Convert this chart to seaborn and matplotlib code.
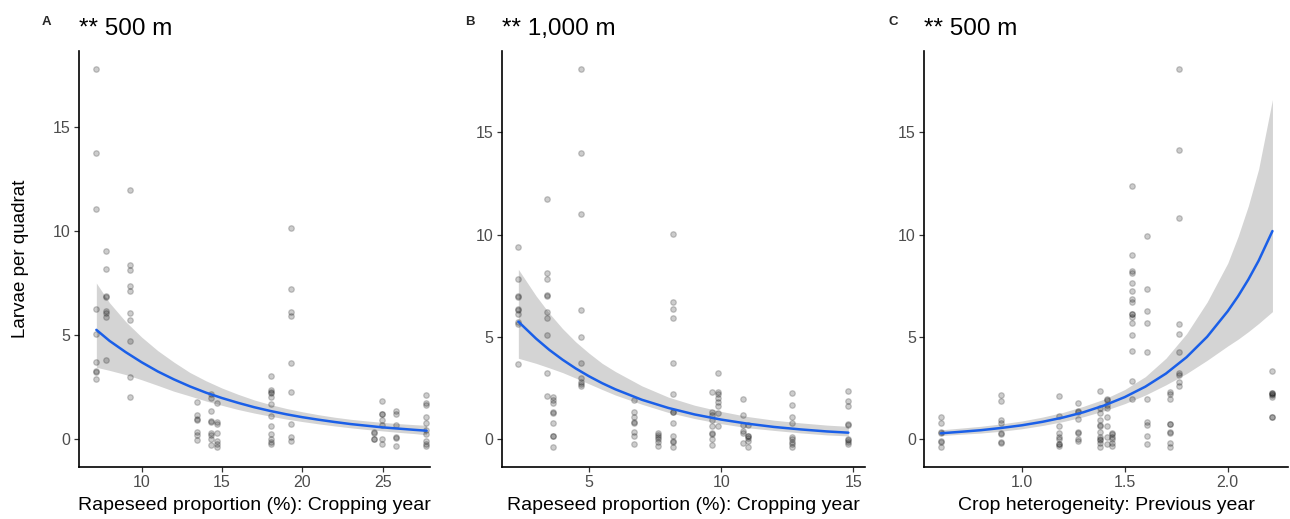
import numpy as np
import pandas as pd
import seaborn as sns
from matplotlib import pyplot as plt

# ---- data ----
# Panel A: rapeseed proportion (%) in the cropping year, 500 m
a_cols = [7.15, 7.8, 9.26, 13.46, 14.29, 14.67, 18.05, 19.27, 24.46, 24.93, 25.8, 27.7]
a_vals = [
    [17.77, 13.77, 11.06, 6.23, 5.03, 3.69, 3.27, 3.22, 2.87],
    [9.05, 8.16, 6.90, 6.85, 6.15, 6.07, 5.85, 3.80],
    [11.97, 8.37, 8.12, 7.36, 7.13, 6.04, 5.72, 4.71, 3.00, 2.02],
    [1.78, 1.15, 0.96, 0.92, 0.35, 0.19, -0.05],
    [2.16, 1.95, 1.35, 0.85, 0.80, 0.30, 0.19, -0.02, -0.29],
    [1.71, 0.83, 0.72, 0.27, -0.10, -0.24, -0.40],
    [3.03, 2.36, 2.28, 2.20, 2.04, 1.68, 1.12, 0.64, 0.24, -0.02, -0.13, -0.24],
    [10.16, 7.21, 6.12, 5.91, 3.64, 2.26, 0.72, 0.11, -0.08],
    [0.34, 0.30, 0.02, -0.02],
    [1.84, 1.22, 1.18, 0.91, 0.67, 0.00, -0.24],
    [1.36, 1.20, 0.67, 0.10, 0.06, -0.34],
    [2.10, 1.71, 1.63, 1.07, 0.75, 0.43, 0.22, -0.10, -0.24, -0.34],
]
a_fit_x = [7.18, 8, 9, 10, 11, 12, 13, 14, 15, 16, 17, 18, 19, 20, 21, 22,
           23, 24, 25, 26, 27, 27.73]
a_fit = [5.25, 4.72, 4.18, 3.69, 3.25, 2.87, 2.53, 2.23, 1.97, 1.74, 1.53,
         1.35, 1.19, 1.05, 0.93, 0.82, 0.72, 0.64, 0.56, 0.50, 0.44, 0.40]
a_hi = [7.50, 6.55, 5.65, 4.90, 4.25, 3.70, 3.20, 2.80, 2.45, 2.15, 1.88,
        1.66, 1.47, 1.31, 1.17, 1.05, 0.95, 0.87, 0.80, 0.74, 0.69, 0.66]
a_lo = [3.45, 3.30, 3.10, 2.85, 2.58, 2.30, 2.07, 1.83, 1.62, 1.42, 1.25,
        1.10, 0.96, 0.84, 0.73, 0.63, 0.54, 0.46, 0.39, 0.32, 0.26, 0.20]

# Panel B: rapeseed proportion (%) in the cropping year, 1,000 m
b_cols = [2.33, 3.42, 3.63, 4.70, 6.70, 7.62, 8.19, 9.64, 9.89, 10.84, 11.03, 12.67, 14.81]
b_vals = [
    [9.37, 7.81, 6.98, 6.94, 6.36, 6.32, 6.11, 5.74, 5.62, 3.67],
    [11.72, 8.10, 7.81, 7.03, 6.99, 6.23, 5.90, 5.09, 3.21, 2.12],
    [2.07, 1.91, 1.74, 1.32, 1.28, 0.80, 0.17, 0.13, -0.38],
    [18.08, 13.99, 11.02, 6.31, 5.00, 3.73, 2.97, 2.80, 2.69, 2.59],
    [1.91, 1.34, 1.09, 0.82, 0.78, 0.36, 0.15, -0.24],
    [0.31, 0.20, 0.08, -0.02, -0.13, -0.34],
    [10.01, 6.72, 6.34, 5.90, 3.73, 2.18, 1.34, 1.30, 0.80, 0.16, -0.11, -0.15, -0.41],
    [2.28, 1.31, 1.17, 0.93, 0.65, 0.30, 0.26, 0.00, -0.29],
    [3.21, 2.31, 2.20, 1.99, 1.79, 1.63, 1.26, 0.64],
    [1.97, 1.17, 0.68, 0.38, 0.30, -0.18],
    [0.68, 0.17, 0.13, 0.03, -0.10, -0.38],
    [2.23, 1.66, 1.09, 0.80, 0.11, -0.02, -0.13, -0.24, -0.38],
    [2.36, 1.87, 1.61, 0.74, 0.70, 0.00, -0.04, -0.13, -0.24],
]
b_fit_x = [2.33, 3, 3.5, 4, 4.5, 5, 5.5, 6, 7, 8, 9, 10, 11, 12, 13, 14, 14.81]
b_fit = [5.74, 4.91, 4.36, 3.88, 3.45, 3.07, 2.73, 2.43, 1.92, 1.52, 1.20,
         0.95, 0.75, 0.59, 0.47, 0.37, 0.31]
b_hi = [8.30, 7.00, 6.15, 5.40, 4.75, 4.20, 3.70, 3.30, 2.60, 2.05, 1.65,
        1.35, 1.10, 0.92, 0.79, 0.68, 0.62]
b_lo = [3.95, 3.70, 3.48, 3.25, 2.98, 2.70, 2.42, 2.15, 1.70, 1.30, 1.00,
        0.75, 0.55, 0.42, 0.30, 0.20, 0.15]

# Panel C: crop heterogeneity in the previous year, 500 m
c_cols = [0.607, 0.901, 1.181, 1.273, 1.380, 1.416, 1.440, 1.537, 1.607, 1.720, 1.764, 2.217]
c_vals = [
    [1.09, 0.80, 0.33, 0.29, -0.11, -0.15, -0.38],
    [2.15, 1.87, 0.93, 0.80, 0.30, 0.26, -0.16, -0.20],
    [2.10, 1.12, 0.64, 0.28, 0.11, -0.02, -0.22, -0.26, -0.34],
    [1.78, 1.36, 1.32, 0.98, 0.33, 0.29, -0.02, -0.10],
    [2.36, 1.50, 1.26, 0.93, 0.70, 0.66, 0.36, 0.08, 0.00, -0.04, -0.18, -0.41],
    [1.96, 1.92, 1.66, 1.50, 1.09, 0.64, 0.11, -0.24],
    [0.30, 0.26, 0.11, -0.02, -0.18, -0.34],
    [12.37, 9.01, 8.23, 8.10, 7.61, 7.25, 6.83, 6.72, 6.13, 6.09, 5.98, 5.66, 5.09, 4.32, 2.85, 1.94],
    [9.94, 7.32, 6.27, 5.69, 4.24, 1.96, 0.85, 0.68, 0.15, -0.24],
    [2.31, 2.20, 1.94, 0.75, 0.71, 0.33, 0.29, -0.21, -0.41],
    [18.08, 14.15, 10.82, 5.61, 5.12, 4.27, 3.24, 3.13, 2.80, 2.61],
    [3.34, 2.25, 2.21, 2.23, 2.15, 2.07, 1.10, 1.08],
]
c_fit_x = [0.607, 0.7, 0.8, 0.9, 1.0, 1.1, 1.2, 1.3, 1.4, 1.5, 1.6, 1.7, 1.8,
           1.9, 2.0, 2.05, 2.1, 2.15, 2.217]
c_fit = [0.28, 0.35, 0.43, 0.54, 0.67, 0.84, 1.05, 1.31, 1.64, 2.05, 2.56,
         3.20, 4.00, 5.00, 6.25, 6.98, 7.80, 8.72, 10.17]
c_hi = [0.45, 0.53, 0.62, 0.74, 0.88, 1.07, 1.30, 1.60, 1.95, 2.42, 3.05,
        3.95, 5.15, 6.70, 8.60, 9.90, 11.40, 13.20, 16.60]
c_lo = [0.17, 0.23, 0.29, 0.38, 0.50, 0.66, 0.85, 1.09, 1.38, 1.73, 2.15,
        2.65, 3.20, 3.85, 4.55, 4.88, 5.25, 5.65, 6.23]

letters = ['A', 'B', 'C']
titles = ['** 500 m', '** 1,000 m', '** 500 m']
xlabels = ['Rapeseed proportion (%): Cropping year',
           'Rapeseed proportion (%): Cropping year',
           'Crop heterogeneity: Previous year']


def to_frame(cols, vals):
    xs = [c for c, v in zip(cols, vals) for _ in v]
    ys = [y for v in vals for y in v]
    return pd.DataFrame({'x': xs, 'y': ys})


sns.set_theme(style='ticks')
plt.rcParams['font.family'] = ['Liberation Sans', 'DejaVu Sans']

W, H = 1290, 519
fig = plt.figure(figsize=(W / 100, H / 100), dpi=100)

# axes boxes in pixels: left, right, top, bottom
boxes = [(79, 430, 50.7, 466.7), (501.7, 865, 50.7, 466.7), (924.3, 1288.3, 50.7, 466.7)]
xlims = [(6.1, 27.94), (1.7, 15.44), (0.527, 2.294)]
ylims = [(-1.33, 18.67), (-1.354, 18.99), (-1.354, 18.99)]
xticks = [[10, 15, 20, 25], [5, 10, 15], [1.0, 1.5, 2.0]]
letter_x = [42, 465, 888]

panels = [
    (a_cols, a_vals, a_fit_x, a_fit, a_lo, a_hi),
    (b_cols, b_vals, b_fit_x, b_fit, b_lo, b_hi),
    (c_cols, c_vals, c_fit_x, c_fit, c_lo, c_hi),
]

for i, (cols, vals, fx, fy, lo, hi) in enumerate(panels):
    l, r, t, b = boxes[i]
    ax = fig.add_axes([l / W, 1 - b / H, (r - l) / W, (b - t) / H])
    df = to_frame(cols, vals)
    fit = pd.DataFrame({'x': fx, 'y': fy, 'lo': lo, 'hi': hi})

    ax.fill_between(fit['x'], fit['lo'], fit['hi'], color='#d4d4d4', lw=0, zorder=1)
    sns.scatterplot(data=df, x='x', y='y', ax=ax, color='black', alpha=0.2,
                    s=16, linewidth=0.9, edgecolor='black', zorder=2)
    sns.lineplot(data=fit, x='x', y='y', ax=ax, color='#1a5fe8', lw=1.8, zorder=3)

    ax.set_xlim(*xlims[i])
    ax.set_ylim(*ylims[i])
    ax.set_xticks(xticks[i])
    if i == 2:
        ax.set_xticklabels(['1.0', '1.5', '2.0'])
    ax.set_yticks([0, 5, 10, 15])
    sns.despine(ax=ax)
    for s in ['left', 'bottom']:
        ax.spines[s].set_linewidth(1.2)
        ax.spines[s].set_color('black')
    ax.tick_params(length=3.5, width=0.9, color='#333333', labelcolor='#4d4d4d',
                   labelsize=11.5, pad=2.5)
    ax.set_xlabel(xlabels[i], fontsize=14, color='black', labelpad=5)
    if i == 0:
        ax.set_ylabel('Larvae per quadrat', fontsize=13.5, color='black', labelpad=17)
    else:
        ax.set_ylabel('')
    ax.set_title(titles[i], loc='left', fontsize=17.5, pad=11, color='black')
    fig.text(letter_x[i] / W, 1 - 25 / H, letters[i], fontsize=9.5,
             fontweight='bold', ha='left', va='baseline')

fig.savefig('out.png', dpi=100)
